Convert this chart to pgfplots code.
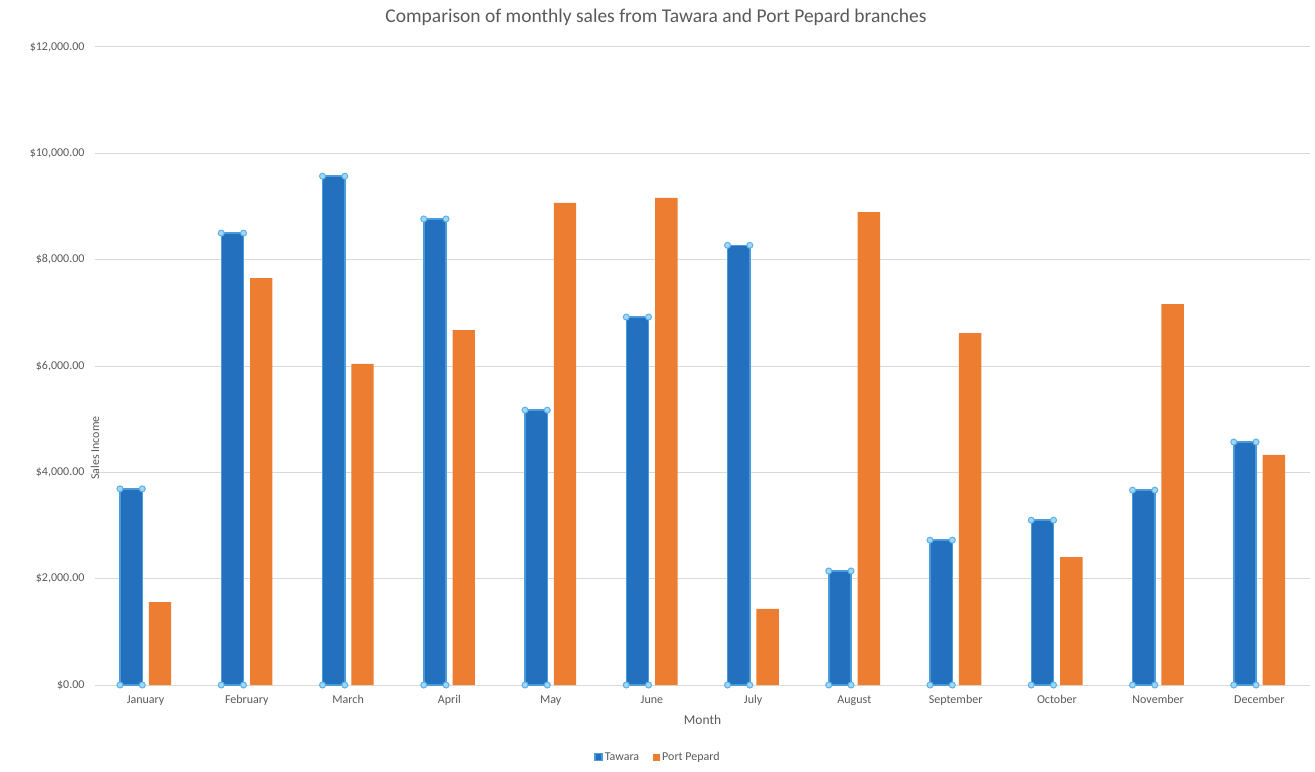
\documentclass[border=0pt]{standalone}
\usepackage{fontspec}
\setmainfont{Carlito}
\usepackage{pgfplots}
\usepackage{pgfplotstable}
\pgfplotsset{compat=1.18}
\definecolor{tblue}{HTML}{2270BE}
\definecolor{tedge}{HTML}{4A9BDA}
\definecolor{handle}{HTML}{5AB2EA}
\definecolor{porange}{HTML}{ED7D31}
\definecolor{gridc}{HTML}{D9D9D9}
\definecolor{txt}{HTML}{595959}
\pgfplotstableread{
x T P
0 3690 1560
1 8500 7655
2 9570 6040
3 8765 6675
4 5170 9070
5 6920 9160
6 8270 1430
7 2145 8895
8 2725 6620
9 3100 2405
10 3665 7165
11 4570 4330
}\sales
\begin{document}
\begin{tikzpicture}
\begin{axis}[
  scale only axis,
  width=1215pt, height=638pt,
  xmin=-0.5, xmax=11.5, ymin=0, ymax=12000,
  scaled y ticks=false,
  xtick={0,...,11},
  xticklabels={January,February,March,April,May,June,July,August,September,October,November,December},
  ytick={0,2000,...,12000},
  yticklabels={\$0.00,{\$2,000.00},{\$4,000.00},{\$6,000.00},{\$8,000.00},{\$10,000.00},{\$12,000.00}},
  ymajorgrids, grid style={gridc, line width=1pt},
  axis line style={draw=none},
  major tick length=0pt,
  tick label style={font=\fontsize{12}{14}\selectfont, text=txt},
  yticklabel style={xshift=-7pt},
  xticklabel style={yshift=-7pt},
  xlabel={Month},
  xlabel style={at={(rel axis cs:0.5,0)}, anchor=center, yshift=-35pt, font=\fontsize{13.5}{15}\selectfont, text=txt},
  ylabel={Sales Income},
  ylabel style={at={(rel axis cs:0,0.5)}, anchor=center, rotate=0, xshift=-82pt, font=\fontsize{12}{14}\selectfont, text=txt},
  bar width=0.22,
  legend style={at={(rel axis cs:0,0)}, anchor=center, xshift=563pt, yshift=-72pt, draw=none, fill=none, legend columns=2, font=\fontsize{12}{14}\selectfont, text=txt, /tikz/every even column/.append style={column sep=12pt}},
  legend image code/.code={\fill[#1] (0pt,-3.5pt) rectangle (7pt,3.5pt);},
]
\addplot[ybar, bar shift=-0.143, fill=tblue, draw=tedge, line width=1.5pt] table[x=x, y=T] {\sales};
\addlegendentry{Tawara}
\addplot[ybar, bar shift=0.143, fill=porange, draw=none] table[x=x, y=P] {\sales};
\addlegendentry{Port Pepard}
\addplot[only marks, mark=*, mark size=3pt, mark options={fill=handle!55, draw=handle, line width=1pt}, forget plot] table[x expr=\thisrow{x}-0.253, y=T] {\sales};
\addplot[only marks, mark=*, mark size=3pt, mark options={fill=handle!55, draw=handle, line width=1pt}, forget plot] table[x expr=\thisrow{x}-0.033, y=T] {\sales};
\addplot[only marks, mark=*, mark size=3pt, mark options={fill=handle!55, draw=handle, line width=1pt}, forget plot] table[x expr=\thisrow{x}-0.253, y expr=0] {\sales};
\addplot[only marks, mark=*, mark size=3pt, mark options={fill=handle!55, draw=handle, line width=1pt}, forget plot] table[x expr=\thisrow{x}-0.033, y expr=0] {\sales};
\end{axis}
\node[font=\fontsize{19.5}{21}\selectfont, text=txt] at ([xshift=561pt, yshift=30pt]current axis.north west) {Comparison of monthly sales from Tawara and Port Pepard branches};
\pgfresetboundingbox
\path[use as bounding box] ([xshift=-95pt, yshift=-86pt]current axis.south west) rectangle ([xshift=5pt, yshift=47pt]current axis.north east);
\end{tikzpicture}
\end{document}
